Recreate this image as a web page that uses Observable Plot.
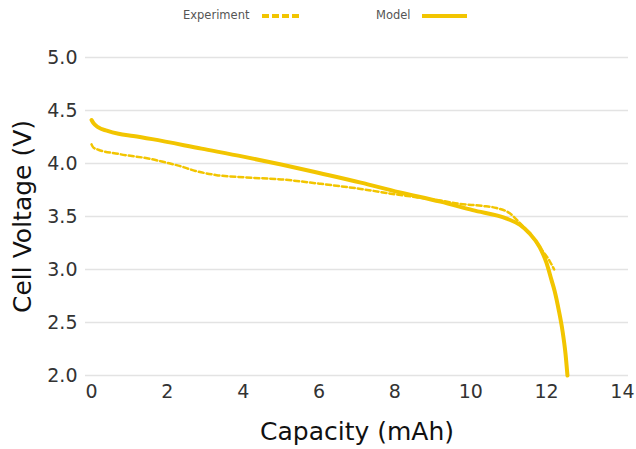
<!DOCTYPE html>
<html>
<head>
<meta charset="utf-8">
<script src="https://cdn.jsdelivr.net/npm/d3@7"></script>
<script src="https://cdn.jsdelivr.net/npm/@observablehq/plot@0.6"></script>
<style>
  body { margin: 0; background: #fff; font-family: "DejaVu Sans", sans-serif; }
  #legend { position: relative; width: 636px; height: 28px; font-size: 11.5px; color: #555; }
  #legend span { position: absolute; top: 8px; }
  #legend svg { position: absolute; top: 12px; }
</style>
</head>
<body>
<div id="legend"></div>
<div id="chart"></div>
<script>
const color = "#f2c500";

const modelCapacity = [0, 0.05, 0.18, 0.4, 0.71, 1.1, 1.6, 2.9, 4.0, 5.0, 6.0, 7.1, 8.1, 9.2, 10.05, 10.95, 11.3, 11.55, 11.82, 12.0, 12.13, 12.21, 12.33, 12.42, 12.5, 12.55];
const modelVoltage  = [4.41, 4.38, 4.34, 4.31, 4.28, 4.26, 4.23, 4.14, 4.065, 3.99, 3.91, 3.82, 3.73, 3.64, 3.56, 3.48, 3.42, 3.34, 3.21, 3.06, 2.90, 2.80, 2.60, 2.42, 2.2, 2.0];

const expCapacity = [0, 0.05, 0.18, 0.71, 1.6, 1.95, 2.29, 2.74, 3.3, 4.0, 5.0, 6.0, 7.1, 8.0, 8.6, 9.2, 9.7, 10.3, 10.68, 11.03, 11.29, 11.55, 11.82, 12.08, 12.2];
const expVoltage  = [4.18, 4.15, 4.13, 4.09, 4.04, 4.01, 3.98, 3.93, 3.89, 3.87, 3.85, 3.81, 3.76, 3.71, 3.68, 3.65, 3.62, 3.60, 3.58, 3.53, 3.44, 3.34, 3.21, 3.08, 3.0];

const xTicks = [0, 2, 4, 6, 8, 10, 12, 14];
const yTicks = [2.0, 2.5, 3.0, 3.5, 4.0, 4.5, 5.0];
const seriesNames = ["Experiment", "Model"];

const model = modelCapacity.map((c, i) => ({c, v: modelVoltage[i]}));
const exp = expCapacity.map((c, i) => ({c, v: expVoltage[i]}));

// legend
const legend = document.getElementById("legend");
legend.innerHTML = `
  <span style="left:183px">${seriesNames[0]}</span>
  <svg style="left:262px" width="40" height="8"><line x1="0" y1="4" x2="38" y2="4" stroke="${color}" stroke-width="4" stroke-dasharray="7,3"/></svg>
  <span style="left:376px">${seriesNames[1]}</span>
  <svg style="left:422px" width="46" height="8"><line x1="0" y1="4" x2="45" y2="4" stroke="${color}" stroke-width="4"/></svg>
`;

const chart = Plot.plot({
  width: 636,
  height: 421,
  marginLeft: 85,
  marginRight: 8,
  marginTop: 29,
  marginBottom: 74,
  style: { fontFamily: "DejaVu Sans, sans-serif", color: "#333", background: "#fff" },
  x: { domain: [-0.16, 14.16] },
  y: { domain: [2, 5] },
  marks: [
    Plot.gridY(yTicks, { stroke: "#e3e3e3", strokeOpacity: 1, strokeWidth: 1.5 }),
    Plot.axisX(xTicks, {
      tickSize: 0, tickPadding: 9, fontSize: 19, tickFormat: d => String(d),
      label: "Capacity (mAh)", labelAnchor: "center", labelArrow: "none", labelOffset: 64
    }),
    Plot.axisY(yTicks, {
      tickSize: 0, tickPadding: 8, fontSize: 19, tickFormat: d => d.toFixed(1),
      label: "Cell Voltage (V)", labelAnchor: "center", labelArrow: "none", labelOffset: 72
    }),
    Plot.line(exp, { x: "c", y: "v", stroke: color, strokeWidth: 2.5, strokeDasharray: "5,3", curve: "monotone-x" }),
    Plot.line(model, { x: "c", y: "v", stroke: color, strokeWidth: 4, curve: "monotone-x" })
  ]
});
chart.querySelectorAll("[aria-label='x-axis label'] text, [aria-label='y-axis label'] text").forEach(t => {
  t.style.fontSize = "25px";
  t.style.fill = "#111";
});
document.getElementById("chart").appendChild(chart);
</script>
</body>
</html>
